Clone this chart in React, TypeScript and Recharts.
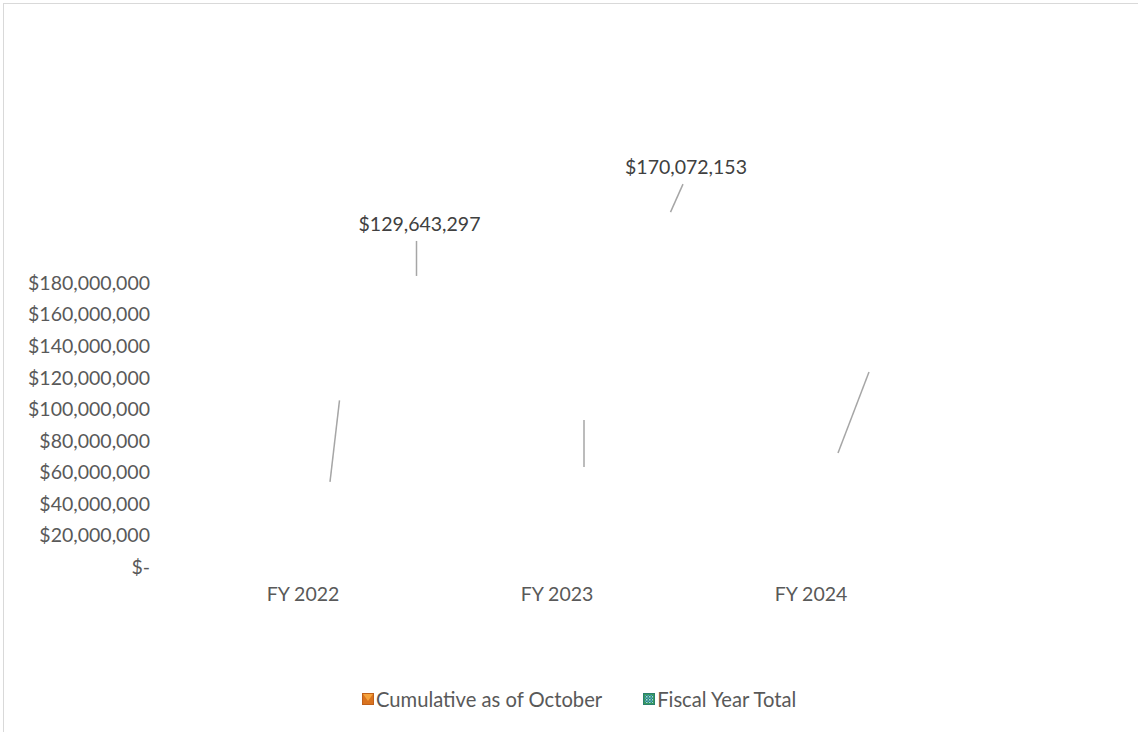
import React from "react";
import { BarChart, Bar, XAxis, YAxis, LabelList } from "recharts";

const categories = ["FY 2022", "FY 2023", "FY 2024"];
const cumulativeOctober = [53900000, 63400000, 72300000];
const fiscalYearTotal: (number | null)[] = [129643297, 170072153, null];
const yTicks = [0, 20000000, 40000000, 60000000, 80000000, 100000000, 120000000, 140000000, 160000000, 180000000];
const seriesNames = ["Cumulative as of October", "Fiscal Year Total"];

const FONT = "Lato, 'Open Sans', sans-serif";
const FONT_SIZE = 19.5;

// leader line: anchor shift from bar centre/top, then the line vector
const CUM_ANCHOR = { dx: 47, dy: 0 };
const TOTAL_ANCHOR = { dx: 93.5, dy: -86.5 };
const CUM_LEADERS = [
  { dx: 9.5, dy: -81.5 },
  { dx: 0, dy: -47 },
  { dx: 31, dy: -81 },
];
const TOTAL_LEADERS = [
  { dx: 0, dy: -35 },
  { dx: 12.5, dy: -28 },
  { dx: 0, dy: -30 },
];

const data = categories.map((name, i) => ({
  name,
  cumulative: cumulativeOctober[i],
  total: fiscalYearTotal[i],
}));

const money = (v: number) => (v === 0 ? "$-" : "$" + v.toLocaleString("en-US"));

function makeLeaderLabel(anchor: { dx: number; dy: number }, leaders: { dx: number; dy: number }[], showText: boolean) {
  return (props: any) => {
    const { value, index } = props;
    if (value == null) return null;
    const vb = props.viewBox ?? props;
    const x = Number(vb.x ?? props.x);
    const y = Number(vb.y ?? props.y);
    const w = Number(vb.width ?? props.width);
    const ax = x + w / 2 + anchor.dx;
    const ay = y + anchor.dy;
    const l = leaders[index] ?? { dx: 0, dy: -30 };
    const tx = ax + l.dx;
    const ty = ay + l.dy;
    return (
      <g>
        <line x1={ax} y1={ay} x2={tx} y2={ty} stroke="#a6a6a6" strokeWidth={1.5} />
        {showText && (
          <text
            x={tx + 3}
            y={ty - 17 + FONT_SIZE * 0.36}
            textAnchor="middle"
            fill="#404040"
            fontFamily={FONT}
            fontSize={FONT_SIZE}
          >
            {money(Number(value))}
          </text>
        )}
      </g>
    );
  };
}

function OrangeIcon() {
  return (
    <svg width={12} height={12} style={{ display: "block" }}>
      <rect x={0} y={0} width={12} height={12} fill="#d9731f" />
      <polygon points="1,1 11,1 6,8" fill="#f6a33c" />
      <rect x={0.5} y={0.5} width={11} height={11} fill="none" stroke="#c0601a" strokeWidth={1} />
    </svg>
  );
}

function GreenIcon() {
  return (
    <svg width={12} height={12} style={{ display: "block" }}>
      <defs>
        <pattern id="chk" width={3} height={3} patternUnits="userSpaceOnUse">
          <rect width={3} height={3} fill="#2f8f6a" />
          <rect width={1.5} height={1.5} fill="#9fd3e6" />
          <rect x={1.5} y={1.5} width={1.5} height={1.5} fill="#4fa0c8" />
        </pattern>
      </defs>
      <rect x={0} y={0} width={12} height={12} fill="#3a9a5c" />
      <rect x={2} y={2} width={8} height={8} fill="url(#chk)" />
      <rect x={0.5} y={0.5} width={11} height={11} fill="none" stroke="#2a7f6e" strokeWidth={1} />
    </svg>
  );
}

function ChartLegend() {
  const icons = [<OrangeIcon key="o" />, <GreenIcon key="g" />];
  return (
    <div
      style={{
        position: "absolute",
        top: 688,
        left: 362,
        display: "flex",
        alignItems: "center",
      }}
    >
      {seriesNames.map((label, i) => (
        <div key={label} style={{ display: "flex", alignItems: "center", marginRight: i === 0 ? 41 : 0 }}>
          {icons[i]}
          <span
            style={{
              marginLeft: 2,
              color: "#595959",
              fontFamily: FONT,
              fontSize: 20.2,
              lineHeight: "22px",
              whiteSpace: "nowrap",
            }}
          >
            {label}
          </span>
        </div>
      ))}
    </div>
  );
}

export default function App() {
  return (
    <div
      style={{
        position: "absolute",
        left: 0,
        top: 0,
        width: 1138,
        height: 732,
        overflow: "hidden",
        background: "#ffffff",
        fontFamily: FONT,
      }}
    >
      <div
        style={{
          position: "absolute",
          left: 3,
          top: 3,
          width: 1300,
          height: 900,
          border: "1px solid #d9d9d9",
        }}
      />
      <BarChart
        width={1138}
        height={732}
        data={data}
        margin={{ top: 283, right: 200, left: 0, bottom: 135 }}
        barSize={40}
        barGap={0}
        style={{ position: "absolute", left: 0, top: 0 }}
      >
        <XAxis
          dataKey="name"
          axisLine={false}
          tickLine={false}
          tickSize={0}
          tickMargin={20}
          height={30}
          tick={{ fill: "#595959", fontSize: FONT_SIZE, fontFamily: FONT }}
        />
        <YAxis
          domain={[0, 180000000]}
          ticks={yTicks}
          width={176}
          axisLine={false}
          tickLine={false}
          tickSize={0}
          tickMargin={26}
          interval={0}
          tickFormatter={money}
          tick={{ fill: "#595959", fontSize: FONT_SIZE, fontFamily: FONT }}
        />
        <Bar dataKey="cumulative" name={seriesNames[0]} fill="none" isAnimationActive={false}>
          <LabelList dataKey="cumulative" content={makeLeaderLabel(CUM_ANCHOR, CUM_LEADERS, false)} />
        </Bar>
        <Bar dataKey="total" name={seriesNames[1]} fill="none" isAnimationActive={false}>
          <LabelList dataKey="total" content={makeLeaderLabel(TOTAL_ANCHOR, TOTAL_LEADERS, true)} />
        </Bar>
      </BarChart>
      <ChartLegend />
    </div>
  );
}
